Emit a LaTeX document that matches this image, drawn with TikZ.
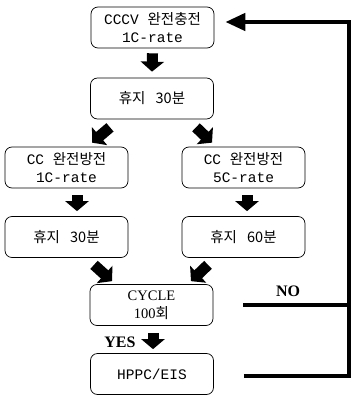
\documentclass[tikz,border=0pt]{standalone}
\usepackage{fontspec}
\setmainfont{Liberation Mono}
\newfontfamily\kr{Noto Sans CJK KR}
\newfontfamily\tms{Liberation Serif}
\usetikzlibrary{arrows.meta}

\begin{document}
\begin{tikzpicture}[x=1pt,y=-1pt,
  box/.style={draw,rounded corners=7pt,minimum width=123pt,minimum height=41pt,
    align=center,inner sep=2pt,line width=0.7pt,font=\fontsize{14.5}{18}\selectfont},
  blk/.style={line width=11pt,-{Triangle[length=10pt,width=23pt]}},
  back/.style={line width=4.5pt},
  tag/.style={font=\tms\bfseries\fontsize{16}{16}\selectfont}]
\useasboundingbox (0,0) rectangle (353,395);
\node [box] (charge) at (152.5,27.5) {CCCV {\kr 완전충전}\\1C-rate};
\node [box] (rest) at (152,98.5) {\kr 휴지\hspace{0.7em}30분};
\node [box] (dis1) at (66.5,167.5) {CC {\kr 완전방전}\\1C-rate};
\node [box] (dis5) at (243.5,167.5) {CC {\kr 완전방전}\\5C-rate};
\node [box] (rest30) at (66.5,237) {\kr 휴지\hspace{0.7em}30분};
\node [box] (rest60) at (243.5,237) {\kr 휴지\hspace{0.7em}60분};
\node [box] (cyc) at (151.5,305) {{\tms CYCLE}\\{\tms 100}{\kr 회}};
\node [box] (hppc) at (152,374) {HPPC/EIS};
\node [tag] (yes) at (120,342) {YES};
\node [tag] (no) at (288,291) {NO};
\coordinate (ret) at (349,22);
% block arrows
\draw [blk] ([yshift=-5pt]charge.south) -- ([yshift=6pt]rest.north);
\draw [blk] ([shift={(-42,8)}]rest.south) -- ([shift={(25.5,-4)}]dis1.north);
\draw [blk] ([shift={(44,8)}]rest.south) -- ([shift={(-31.5,-4)}]dis5.north);
\draw [blk] ([shift={(10.5,7)}]dis1.south) -- ([shift={(10.5,-5)}]rest30.north);
\draw [blk] ([shift={(3.5,7)}]dis5.south) -- ([shift={(3.5,-5)}]rest60.north);
\draw [blk] ([shift={(27.5,7)}]rest30.south) -- ([shift={(-39.5,-3)}]cyc.north);
\draw [blk] ([shift={(-35.5,7)}]rest60.south) -- ([shift={(39.5,-3)}]cyc.north);
\draw [blk] ([shift={(1.5,7)}]cyc.south) -- ([shift={(1,-4)}]hppc.north);
% loop back
\draw [back] ([xshift=30pt]cyc.east) -- (cyc.east -| ret);
\draw [back,-{Triangle[length=20pt,width=17pt]}] ([shift={(30,2)}]hppc.east) -| (ret)
  -- ([xshift=11pt]charge.east |- ret);
\end{tikzpicture}
\end{document}
